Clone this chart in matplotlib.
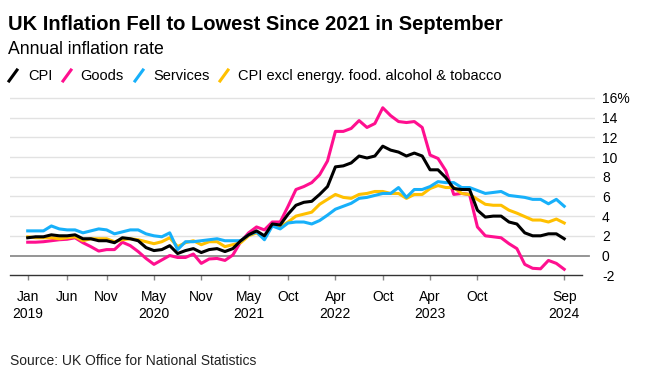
import numpy as np
import matplotlib
matplotlib.use('Agg')
import matplotlib.pyplot as plt
from matplotlib.lines import Line2D

# monthly annual rates, Jan 2019 .. Sep 2024
cpi = [1.8, 1.9, 1.9, 2.1, 2.0, 2.0, 2.1, 1.7, 1.7, 1.5, 1.5, 1.3,
       1.8, 1.7, 1.5, 0.8, 0.5, 0.6, 1.0, 0.2, 0.5, 0.7, 0.3, 0.6,
       0.7, 0.4, 0.7, 1.5, 2.1, 2.5, 2.0, 3.2, 3.1, 4.2, 5.1, 5.4,
       5.5, 6.2, 7.0, 9.0, 9.1, 9.4, 10.1, 9.9, 10.1, 11.1, 10.7, 10.5,
       10.1, 10.4, 10.1, 8.7, 8.7, 7.9, 6.8, 6.7, 6.7, 4.6, 3.9, 4.0,
       4.0, 3.4, 3.2, 2.3, 2.0, 2.0, 2.2, 2.2, 1.7]
goods = [1.35, 1.35, 1.4, 1.5, 1.6, 1.65, 1.8, 1.3, 0.9, 0.45, 0.6, 0.6,
         1.35, 1.0, 0.4, -0.3, -0.9, -0.45, 0.0, -0.2, -0.2, 0.15, -0.8, -0.35,
         -0.3, -0.5, 0.05, 1.4, 2.3, 2.9, 2.6, 3.4, 3.4, 5.0, 6.7, 7.0,
         7.4, 8.2, 9.6, 12.6, 12.6, 12.9, 13.7, 13.0, 13.4, 15.0, 14.2, 13.6,
         13.5, 13.6, 13.0, 10.2, 9.85, 8.6, 6.2, 6.3, 6.2, 2.9, 2.0, 1.9,
         1.8, 1.2, 0.7, -0.9, -1.3, -1.35, -0.5, -0.8, -1.4]
services = [2.5, 2.5, 2.5, 3.0, 2.7, 2.6, 2.6, 2.3, 2.5, 2.7, 2.6, 2.2,
            2.4, 2.6, 2.6, 2.2, 2.0, 1.9, 2.3, 0.6, 1.4, 1.4, 1.5, 1.6,
            1.7, 1.5, 1.5, 1.5, 2.1, 2.4, 1.6, 3.0, 2.7, 3.3, 3.4, 3.4,
            3.2, 3.55, 4.1, 4.7, 5.0, 5.3, 5.8, 5.9, 6.1, 6.3, 6.3, 6.9,
            5.9, 6.7, 6.7, 7.0, 7.5, 7.4, 7.4, 6.9, 6.9, 6.6, 6.3, 6.4,
            6.5, 6.1, 6.0, 5.9, 5.7, 5.7, 5.25, 5.7, 5.0]
core = [1.9, 1.8, 1.8, 1.8, 1.7, 1.8, 1.9, 1.5, 1.7, 1.7, 1.7, 1.4,
        1.6, 1.7, 1.6, 1.4, 1.2, 1.4, 1.8, 0.9, 1.3, 1.5, 1.1, 1.4,
        1.4, 0.9, 1.1, 1.3, 2.0, 2.3, 1.8, 3.1, 2.9, 3.4, 4.0, 4.2,
        4.4, 5.2, 5.7, 6.2, 5.9, 5.8, 6.2, 6.3, 6.5, 6.5, 6.3, 6.3,
        5.8, 6.2, 6.2, 6.8, 7.1, 6.9, 6.9, 6.3, 6.2, 5.7, 5.2, 5.1,
        5.1, 4.6, 4.3, 3.95, 3.6, 3.6, 3.4, 3.7, 3.3]

tick_pos = [0, 5, 10, 16, 22, 28, 33, 39, 45, 51, 57, 68]
tick_lab = ['Jan\n2019', 'Jun', 'Nov', 'May\n2020', 'Nov', 'May\n2021', 'Oct',
            'Apr\n2022', 'Oct', 'Apr\n2023', 'Oct', 'Sep\n2024']
y_ticks = [-2, 0, 2, 4, 6, 8, 10, 12, 14, 16]
y_lab = ['-2', '0', '2', '4', '6', '8', '10', '12', '14', '16%']

months = np.arange(len(cpi))

plt.rcParams['font.family'] = ['Liberation Sans', 'DejaVu Sans']

W, H = 657, 381
fig = plt.figure(figsize=(W / 100, H / 100), dpi=100)

def fx(px):
    return px / W

def fy(py):
    return 1 - py / H

# axes placement in pixels
left_px, right_px = 10, 595
top_px, bot_px = 92.0, 275.2
ax = fig.add_axes([fx(left_px), fy(bot_px), fx(right_px - left_px), (bot_px - top_px) / H])

x0_px, step = 27.7, 7.89
ax.set_xlim((left_px - x0_px) / step, (right_px - x0_px) / step)
ax.set_ylim(-2, 16.6)

for s in ['top', 'left', 'right']:
    ax.spines[s].set_visible(False)
ax.spines['bottom'].set_color('#333333')
ax.spines['bottom'].set_linewidth(1)
ax.spines['bottom'].set_bounds((left_px - x0_px) / step, (582 - x0_px) / step)

for v in y_ticks[1:]:
    if v == 0:
        ax.axhline(0, color='#8c8c8c', lw=1.3, xmax=(589 - left_px) / (right_px - left_px), zorder=1)
    else:
        ax.axhline(v, color='#e2e2e2', lw=1, zorder=0)

ax.plot(months, goods, color='#ff0f8f', lw=2.2, solid_joinstyle='round', zorder=3)
ax.plot(months, core, color='#ffc000', lw=2.2, solid_joinstyle='round', zorder=3)
ax.plot(months, services, color='#17b0fa', lw=2.2, solid_joinstyle='round', zorder=4)
ax.plot(months, cpi, color='#000000', lw=2.2, solid_joinstyle='round', zorder=5)

ax.set_xticks(tick_pos)
ax.set_xticklabels(tick_lab, fontsize=10, linespacing=1.3)
ax.tick_params(axis='x', length=3.5, width=1, color='#888888', pad=7)

ax.yaxis.tick_right()
ax.set_yticks(y_ticks)
ax.set_yticklabels(y_lab, fontsize=10)
ax.tick_params(axis='y', length=0, pad=5)
for t in ax.get_yticklabels():
    t.set_horizontalalignment('left')

# header
fig.text(fx(8), fy(25), 'UK Inflation Fell to Lowest Since 2021 in September',
         fontsize=14.5, fontweight='bold', va='center', ha='left')
fig.text(fx(8), fy(50), 'Annual inflation rate', fontsize=12.7, va='center', ha='left')

legend_items = [('CPI', '#000000', 9, 28), ('Goods', '#ff0f8f', 63, 80),
                ('Services', '#17b0fa', 135, 153),
                ('CPI excl energy. food. alcohol & tobacco', '#ffc000', 220, 238)]
for name, col, sx, tx in legend_items:
    fig.add_artist(Line2D([fx(sx), fx(sx + 8)], [fy(81), fy(70)], color=col, lw=2.2,
                          transform=fig.transFigure))
    fig.text(fx(tx), fy(76), name, fontsize=10.5, va='center', ha='left')

fig.text(fx(10), fy(361), 'Source: UK Office for National Statistics', fontsize=10,
         va='center', ha='left', color='#222222')

fig.savefig('out.png', dpi=100)
plt.close(fig)
